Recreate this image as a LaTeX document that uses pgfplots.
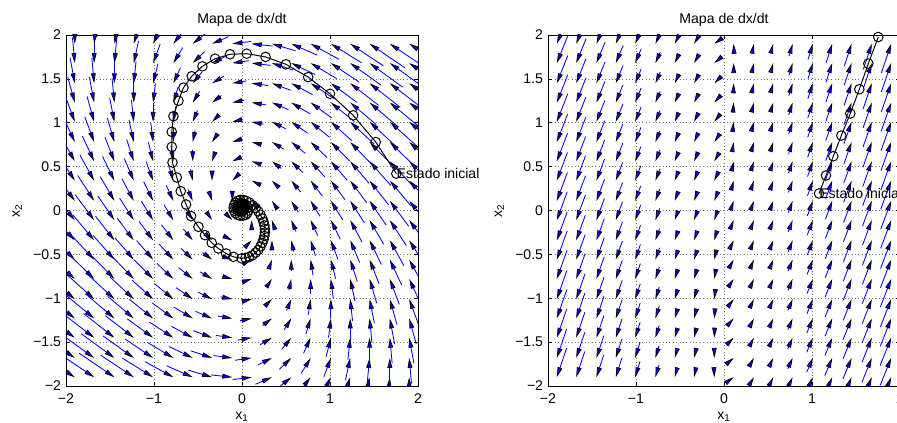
\documentclass[border=0pt]{standalone}
\usepackage{fontspec}
\setmainfont{Liberation Sans}
\usepackage{pgfplots}
\pgfplotsset{compat=1.18}
\usetikzlibrary{arrows.meta}

\pgfplotsset{
  phase/.style={
    scale only axis, width=88mm, height=87.75mm,
    xmin=-2, xmax=2, ymin=-2, ymax=2,
    xtick={-2,-1,0,1,2}, xticklabels={−2,−1,0,1,2},
    ytick={-2,-1.5,-1,-0.5,0,0.5,1,1.5,2},
    yticklabels={−2,−1.5,−1,−0.5,0,0.5,1,1.5,2},
    grid=major, grid style={dotted, line width=0.5pt, black!55},
    axis line style={line width=0.7pt},
    tick style={black, line width=0.5pt}, major tick length=1.1mm,
    tick label style={font=\fontsize{10}{12}\selectfont},
    every x tick label/.append style={yshift=-0.6mm},
    title={Mapa de dx/dt},
    every axis title shift=0pt,
    title style={at={([yshift=2.9mm]axis description cs:0.5,1)}, anchor=base, inner sep=0pt,
      font=\fontsize{10}{12}\selectfont},
    xlabel={x\textsubscript{1}}, ylabel={x\textsubscript{2}},
    label style={font=\fontsize{10}{12}\selectfont},
    xlabel style={at={([yshift=-8.4mm]axis description cs:0.5,0)}, anchor=base, inner sep=0pt},
    ylabel style={at={([xshift=-11.5mm]axis description cs:0,0.5)}, anchor=base, inner sep=0pt},
    clip mode=individual,
  },
  field/.style={blue, line width=0.6pt,
    {Triangle[length=2.5mm, width=1.2mm, fill=blue, color=black, line width=0.55pt]}-},
  traj/.style={black, line width=0.7pt, mark=o, mark size=1.2mm, mark options={line width=0.7pt}},
}

\begin{document}
\begin{tikzpicture}
\useasboundingbox (0,0) rectangle (224.25mm,105.75mm);
\clip (0,0) rectangle (224.25mm,105.75mm);

% ---- left: stable focus ----
\begin{axis}[phase, at={(16.5mm,9.25mm)}, anchor=south west]
\addplot[field, quiver={u=\thisrow{u}, v=\thisrow{v}, scale arrows=-0.12}]
  table[row sep=\\] {
x y u v\\
-1.9 -1.9 3.80 -2.43\\ -1.9 -1.68 3.58 -2.43\\ -1.9 -1.45 3.35 -2.43\\ -1.9 -1.23 3.13 -2.43\\ -1.9 -1.01 2.91 -2.43\\ -1.9 -0.78 2.68 -2.43\\ -1.9 -0.56 2.46 -2.43\\ -1.9 -0.34 2.24 -2.43\\ -1.9 -0.11 2.01 -2.43\\ -1.9 0.11 1.79 -2.43\\ -1.9 0.34 1.56 -2.43\\ -1.9 0.56 1.34 -2.43\\ -1.9 0.78 1.12 -2.43\\ -1.9 1.01 0.89 -2.43\\ -1.9 1.23 0.67 -2.43\\ -1.9 1.45 0.45 -2.43\\ -1.9 1.68 0.22 -2.43\\ -1.9 1.9 0.00 -2.43\\
-1.68 -1.9 3.58 -2.41\\ -1.68 -1.68 3.35 -2.41\\ -1.68 -1.45 3.13 -2.41\\ -1.68 -1.23 2.91 -2.41\\ -1.68 -1.01 2.68 -2.41\\ -1.68 -0.78 2.46 -2.41\\ -1.68 -0.56 2.24 -2.41\\ -1.68 -0.34 2.01 -2.41\\ -1.68 -0.11 1.79 -2.41\\ -1.68 0.11 1.56 -2.41\\ -1.68 0.34 1.34 -2.41\\ -1.68 0.56 1.12 -2.41\\ -1.68 0.78 0.89 -2.41\\ -1.68 1.01 0.67 -2.41\\ -1.68 1.23 0.45 -2.41\\ -1.68 1.45 0.22 -2.41\\ -1.68 1.68 0.00 -2.41\\ -1.68 1.9 -0.22 -2.41\\
-1.45 -1.9 3.35 -2.29\\ -1.45 -1.68 3.13 -2.29\\ -1.45 -1.45 2.91 -2.29\\ -1.45 -1.23 2.68 -2.29\\ -1.45 -1.01 2.46 -2.29\\ -1.45 -0.78 2.24 -2.29\\ -1.45 -0.56 2.01 -2.29\\ -1.45 -0.34 1.79 -2.29\\ -1.45 -0.11 1.56 -2.29\\ -1.45 0.11 1.34 -2.29\\ -1.45 0.34 1.12 -2.29\\ -1.45 0.56 0.89 -2.29\\ -1.45 0.78 0.67 -2.29\\ -1.45 1.01 0.45 -2.29\\ -1.45 1.23 0.22 -2.29\\ -1.45 1.45 0.00 -2.29\\ -1.45 1.68 -0.22 -2.29\\ -1.45 1.9 -0.45 -2.29\\
-1.23 -1.9 3.13 -2.09\\ -1.23 -1.68 2.91 -2.09\\ -1.23 -1.45 2.68 -2.09\\ -1.23 -1.23 2.46 -2.09\\ -1.23 -1.01 2.24 -2.09\\ -1.23 -0.78 2.01 -2.09\\ -1.23 -0.56 1.79 -2.09\\ -1.23 -0.34 1.56 -2.09\\ -1.23 -0.11 1.34 -2.09\\ -1.23 0.11 1.12 -2.09\\ -1.23 0.34 0.89 -2.09\\ -1.23 0.56 0.67 -2.09\\ -1.23 0.78 0.45 -2.09\\ -1.23 1.01 0.22 -2.09\\ -1.23 1.23 0.00 -2.09\\ -1.23 1.45 -0.22 -2.09\\ -1.23 1.68 -0.45 -2.09\\ -1.23 1.9 -0.67 -2.09\\
-1.01 -1.9 2.91 -1.81\\ -1.01 -1.68 2.68 -1.81\\ -1.01 -1.45 2.46 -1.81\\ -1.01 -1.23 2.24 -1.81\\ -1.01 -1.01 2.01 -1.81\\ -1.01 -0.78 1.79 -1.81\\ -1.01 -0.56 1.56 -1.81\\ -1.01 -0.34 1.34 -1.81\\ -1.01 -0.11 1.12 -1.81\\ -1.01 0.11 0.89 -1.81\\ -1.01 0.34 0.67 -1.81\\ -1.01 0.56 0.45 -1.81\\ -1.01 0.78 0.22 -1.81\\ -1.01 1.01 0.00 -1.81\\ -1.01 1.23 -0.22 -1.81\\ -1.01 1.45 -0.45 -1.81\\ -1.01 1.68 -0.67 -1.81\\ -1.01 1.9 -0.89 -1.81\\
-0.78 -1.9 2.68 -1.47\\ -0.78 -1.68 2.46 -1.47\\ -0.78 -1.45 2.24 -1.47\\ -0.78 -1.23 2.01 -1.47\\ -0.78 -1.01 1.79 -1.47\\ -0.78 -0.78 1.56 -1.47\\ -0.78 -0.56 1.34 -1.47\\ -0.78 -0.34 1.12 -1.47\\ -0.78 -0.11 0.89 -1.47\\ -0.78 0.11 0.67 -1.47\\ -0.78 0.34 0.45 -1.47\\ -0.78 0.56 0.22 -1.47\\ -0.78 0.78 0.00 -1.47\\ -0.78 1.01 -0.22 -1.47\\ -0.78 1.23 -0.45 -1.47\\ -0.78 1.45 -0.67 -1.47\\ -0.78 1.68 -0.89 -1.47\\ -0.78 1.9 -1.12 -1.47\\
-0.56 -1.9 2.46 -1.08\\ -0.56 -1.68 2.24 -1.08\\ -0.56 -1.45 2.01 -1.08\\ -0.56 -1.23 1.79 -1.08\\ -0.56 -1.01 1.56 -1.08\\ -0.56 -0.78 1.34 -1.08\\ -0.56 -0.56 1.12 -1.08\\ -0.56 -0.34 0.89 -1.08\\ -0.56 -0.11 0.67 -1.08\\ -0.56 0.11 0.45 -1.08\\ -0.56 0.34 0.22 -1.08\\ -0.56 0.56 0.00 -1.08\\ -0.56 0.78 -0.22 -1.08\\ -0.56 1.01 -0.45 -1.08\\ -0.56 1.23 -0.67 -1.08\\ -0.56 1.45 -0.89 -1.08\\ -0.56 1.68 -1.12 -1.08\\ -0.56 1.9 -1.34 -1.08\\
-0.34 -1.9 2.24 -0.67\\ -0.34 -1.68 2.01 -0.67\\ -0.34 -1.45 1.79 -0.67\\ -0.34 -1.23 1.56 -0.67\\ -0.34 -1.01 1.34 -0.67\\ -0.34 -0.78 1.12 -0.67\\ -0.34 -0.56 0.89 -0.67\\ -0.34 -0.34 0.67 -0.67\\ -0.34 -0.11 0.45 -0.67\\ -0.34 0.11 0.22 -0.67\\ -0.34 0.34 0.00 -0.67\\ -0.34 0.56 -0.22 -0.67\\ -0.34 0.78 -0.45 -0.67\\ -0.34 1.01 -0.67 -0.67\\ -0.34 1.23 -0.89 -0.67\\ -0.34 1.45 -1.12 -0.67\\ -0.34 1.68 -1.34 -0.67\\ -0.34 1.9 -1.56 -0.67\\
-0.11 -1.9 2.01 -0.22\\ -0.11 -1.68 1.79 -0.22\\ -0.11 -1.45 1.56 -0.22\\ -0.11 -1.23 1.34 -0.22\\ -0.11 -1.01 1.12 -0.22\\ -0.11 -0.78 0.89 -0.22\\ -0.11 -0.56 0.67 -0.22\\ -0.11 -0.34 0.45 -0.22\\ -0.11 -0.11 0.22 -0.22\\ -0.11 0.11 0.00 -0.22\\ -0.11 0.34 -0.22 -0.22\\ -0.11 0.56 -0.45 -0.22\\ -0.11 0.78 -0.67 -0.22\\ -0.11 1.01 -0.89 -0.22\\ -0.11 1.23 -1.12 -0.22\\ -0.11 1.45 -1.34 -0.22\\ -0.11 1.68 -1.56 -0.22\\ -0.11 1.9 -1.79 -0.22\\
0.11 -1.9 1.79 0.22\\ 0.11 -1.68 1.56 0.22\\ 0.11 -1.45 1.34 0.22\\ 0.11 -1.23 1.12 0.22\\ 0.11 -1.01 0.89 0.22\\ 0.11 -0.78 0.67 0.22\\ 0.11 -0.56 0.45 0.22\\ 0.11 -0.34 0.22 0.22\\ 0.11 -0.11 0.00 0.22\\ 0.11 0.11 -0.22 0.22\\ 0.11 0.34 -0.45 0.22\\ 0.11 0.56 -0.67 0.22\\ 0.11 0.78 -0.89 0.22\\ 0.11 1.01 -1.12 0.22\\ 0.11 1.23 -1.34 0.22\\ 0.11 1.45 -1.56 0.22\\ 0.11 1.68 -1.79 0.22\\ 0.11 1.9 -2.01 0.22\\
0.34 -1.9 1.56 0.67\\ 0.34 -1.68 1.34 0.67\\ 0.34 -1.45 1.12 0.67\\ 0.34 -1.23 0.89 0.67\\ 0.34 -1.01 0.67 0.67\\ 0.34 -0.78 0.45 0.67\\ 0.34 -0.56 0.22 0.67\\ 0.34 -0.34 0.00 0.67\\ 0.34 -0.11 -0.22 0.67\\ 0.34 0.11 -0.45 0.67\\ 0.34 0.34 -0.67 0.67\\ 0.34 0.56 -0.89 0.67\\ 0.34 0.78 -1.12 0.67\\ 0.34 1.01 -1.34 0.67\\ 0.34 1.23 -1.56 0.67\\ 0.34 1.45 -1.79 0.67\\ 0.34 1.68 -2.01 0.67\\ 0.34 1.9 -2.24 0.67\\
0.56 -1.9 1.34 1.08\\ 0.56 -1.68 1.12 1.08\\ 0.56 -1.45 0.89 1.08\\ 0.56 -1.23 0.67 1.08\\ 0.56 -1.01 0.45 1.08\\ 0.56 -0.78 0.22 1.08\\ 0.56 -0.56 0.00 1.08\\ 0.56 -0.34 -0.22 1.08\\ 0.56 -0.11 -0.45 1.08\\ 0.56 0.11 -0.67 1.08\\ 0.56 0.34 -0.89 1.08\\ 0.56 0.56 -1.12 1.08\\ 0.56 0.78 -1.34 1.08\\ 0.56 1.01 -1.56 1.08\\ 0.56 1.23 -1.79 1.08\\ 0.56 1.45 -2.01 1.08\\ 0.56 1.68 -2.24 1.08\\ 0.56 1.9 -2.46 1.08\\
0.78 -1.9 1.12 1.47\\ 0.78 -1.68 0.89 1.47\\ 0.78 -1.45 0.67 1.47\\ 0.78 -1.23 0.45 1.47\\ 0.78 -1.01 0.22 1.47\\ 0.78 -0.78 0.00 1.47\\ 0.78 -0.56 -0.22 1.47\\ 0.78 -0.34 -0.45 1.47\\ 0.78 -0.11 -0.67 1.47\\ 0.78 0.11 -0.89 1.47\\ 0.78 0.34 -1.12 1.47\\ 0.78 0.56 -1.34 1.47\\ 0.78 0.78 -1.56 1.47\\ 0.78 1.01 -1.79 1.47\\ 0.78 1.23 -2.01 1.47\\ 0.78 1.45 -2.24 1.47\\ 0.78 1.68 -2.46 1.47\\ 0.78 1.9 -2.68 1.47\\
1.01 -1.9 0.89 1.81\\ 1.01 -1.68 0.67 1.81\\ 1.01 -1.45 0.45 1.81\\ 1.01 -1.23 0.22 1.81\\ 1.01 -1.01 0.00 1.81\\ 1.01 -0.78 -0.22 1.81\\ 1.01 -0.56 -0.45 1.81\\ 1.01 -0.34 -0.67 1.81\\ 1.01 -0.11 -0.89 1.81\\ 1.01 0.11 -1.12 1.81\\ 1.01 0.34 -1.34 1.81\\ 1.01 0.56 -1.56 1.81\\ 1.01 0.78 -1.79 1.81\\ 1.01 1.01 -2.01 1.81\\ 1.01 1.23 -2.24 1.81\\ 1.01 1.45 -2.46 1.81\\ 1.01 1.68 -2.68 1.81\\ 1.01 1.9 -2.91 1.81\\
1.23 -1.9 0.67 2.09\\ 1.23 -1.68 0.45 2.09\\ 1.23 -1.45 0.22 2.09\\ 1.23 -1.23 0.00 2.09\\ 1.23 -1.01 -0.22 2.09\\ 1.23 -0.78 -0.45 2.09\\ 1.23 -0.56 -0.67 2.09\\ 1.23 -0.34 -0.89 2.09\\ 1.23 -0.11 -1.12 2.09\\ 1.23 0.11 -1.34 2.09\\ 1.23 0.34 -1.56 2.09\\ 1.23 0.56 -1.79 2.09\\ 1.23 0.78 -2.01 2.09\\ 1.23 1.01 -2.24 2.09\\ 1.23 1.23 -2.46 2.09\\ 1.23 1.45 -2.68 2.09\\ 1.23 1.68 -2.91 2.09\\ 1.23 1.9 -3.13 2.09\\
1.45 -1.9 0.45 2.29\\ 1.45 -1.68 0.22 2.29\\ 1.45 -1.45 0.00 2.29\\ 1.45 -1.23 -0.22 2.29\\ 1.45 -1.01 -0.45 2.29\\ 1.45 -0.78 -0.67 2.29\\ 1.45 -0.56 -0.89 2.29\\ 1.45 -0.34 -1.12 2.29\\ 1.45 -0.11 -1.34 2.29\\ 1.45 0.11 -1.56 2.29\\ 1.45 0.34 -1.79 2.29\\ 1.45 0.56 -2.01 2.29\\ 1.45 0.78 -2.24 2.29\\ 1.45 1.01 -2.46 2.29\\ 1.45 1.23 -2.68 2.29\\ 1.45 1.45 -2.91 2.29\\ 1.45 1.68 -3.13 2.29\\ 1.45 1.9 -3.35 2.29\\
1.68 -1.9 0.22 2.41\\ 1.68 -1.68 0.00 2.41\\ 1.68 -1.45 -0.22 2.41\\ 1.68 -1.23 -0.45 2.41\\ 1.68 -1.01 -0.67 2.41\\ 1.68 -0.78 -0.89 2.41\\ 1.68 -0.56 -1.12 2.41\\ 1.68 -0.34 -1.34 2.41\\ 1.68 -0.11 -1.56 2.41\\ 1.68 0.11 -1.79 2.41\\ 1.68 0.34 -2.01 2.41\\ 1.68 0.56 -2.24 2.41\\ 1.68 0.78 -2.46 2.41\\ 1.68 1.01 -2.68 2.41\\ 1.68 1.23 -2.91 2.41\\ 1.68 1.45 -3.13 2.41\\ 1.68 1.68 -3.35 2.41\\ 1.68 1.9 -3.58 2.41\\
1.9 -1.9 0.00 2.43\\ 1.9 -1.68 -0.22 2.43\\ 1.9 -1.45 -0.45 2.43\\ 1.9 -1.23 -0.67 2.43\\ 1.9 -1.01 -0.89 2.43\\ 1.9 -0.78 -1.12 2.43\\ 1.9 -0.56 -1.34 2.43\\ 1.9 -0.34 -1.56 2.43\\ 1.9 -0.11 -1.79 2.43\\ 1.9 0.11 -2.01 2.43\\ 1.9 0.34 -2.24 2.43\\ 1.9 0.56 -2.46 2.43\\ 1.9 0.78 -2.68 2.43\\ 1.9 1.01 -2.91 2.43\\ 1.9 1.23 -3.13 2.43\\ 1.9 1.45 -3.35 2.43\\ 1.9 1.68 -3.58 2.43\\ 1.9 1.9 -3.80 2.43\\
};
\addplot[traj] coordinates {
(1.754,0.42)(1.52,0.78)(1.263,1.085)(1.0,1.33)(0.752,1.52)(0.499,1.666)(0.268,1.75)
(0.053,1.787)(-0.136,1.78)(-0.306,1.73)(-0.45,1.643)(-0.571,1.53)(-0.665,1.40)
(-0.722,1.25)(-0.779,1.074)(-0.798,0.896)(-0.798,0.725)(-0.79,0.547)(-0.741,0.376)
(-0.696,0.22)(-0.635,0.068)(-0.578,-0.065)(-0.495,-0.186)(-0.42,-0.281)(-0.344,-0.368)
(-0.268,-0.433)(-0.181,-0.49)(-0.098,-0.528)(-0.004,-0.546)
(0.04,-0.54)(0.08,-0.53)(0.12,-0.51)(0.155,-0.48)(0.185,-0.45)(0.21,-0.41)(0.23,-0.37)
(0.245,-0.33)(0.255,-0.29)(0.26,-0.25)(0.26,-0.21)(0.255,-0.17)(0.245,-0.13)(0.23,-0.09)
(0.21,-0.05)(0.185,-0.01)(0.155,0.03)(0.12,0.06)(0.085,0.09)(0.05,0.11)(0.015,0.12)
(-0.02,0.12)(-0.05,0.11)(-0.075,0.09)(-0.09,0.06)(-0.095,0.03)(-0.09,0.0)(-0.075,-0.03)
(-0.05,-0.05)(-0.02,-0.06)(0.01,-0.06)(0.04,-0.05)(0.06,-0.03)(0.07,0.0)(0.065,0.03)
(0.05,0.05)(0.03,0.07)(0.005,0.08)(-0.02,0.08)(-0.04,0.07)(-0.055,0.05)(-0.06,0.03)
(-0.055,0.01)(-0.04,-0.005)(-0.02,-0.01)(0,-0.01)(0.02,0.0)(0.03,0.02)(0.03,0.04)
(0.02,0.055)(0,0.06)(-0.02,0.055)(-0.03,0.04)(-0.03,0.025)(-0.02,0.015)(-0.005,0.01)
(0.01,0.015)(0.015,0.03)(0.01,0.04)(0,0.04)(-0.01,0.035)
};
\node[anchor=west, inner sep=0pt, font=\fontsize{10}{12}\selectfont] at (axis cs:1.754,0.42) {Estado inicial};
\end{axis}

% ---- right: unstable node ----
\begin{axis}[phase, at={(137mm,9.25mm)}, anchor=south west]
\addplot[field, quiver={u=\thisrow{u}, v=\thisrow{v}, scale arrows=-0.17}]
  table[row sep=\\] {
x y u v\\
-1.9 -1.9 -0.655 -1.948\\ -1.9 -1.68 -0.661 -1.942\\ -1.9 -1.45 -0.667 -1.936\\ -1.9 -1.23 -0.672 -1.931\\ -1.9 -1.01 -0.678 -1.925\\ -1.9 -0.78 -0.683 -1.920\\ -1.9 -0.56 -0.689 -1.914\\ -1.9 -0.34 -0.695 -1.908\\ -1.9 -0.11 -0.700 -1.903\\ -1.9 0.11 -0.706 -1.897\\ -1.9 0.34 -0.711 -1.892\\ -1.9 0.56 -0.717 -1.886\\ -1.9 0.78 -0.723 -1.880\\ -1.9 1.01 -0.728 -1.875\\ -1.9 1.23 -0.734 -1.869\\ -1.9 1.45 -0.739 -1.864\\ -1.9 1.68 -0.745 -1.858\\ -1.9 1.9 -0.751 -1.852\\
-1.68 -1.9 -0.572 -1.724\\ -1.68 -1.68 -0.578 -1.718\\ -1.68 -1.45 -0.584 -1.712\\ -1.68 -1.23 -0.589 -1.707\\ -1.68 -1.01 -0.595 -1.701\\ -1.68 -0.78 -0.600 -1.696\\ -1.68 -0.56 -0.606 -1.690\\ -1.68 -0.34 -0.612 -1.684\\ -1.68 -0.11 -0.617 -1.679\\ -1.68 0.11 -0.623 -1.673\\ -1.68 0.34 -0.628 -1.668\\ -1.68 0.56 -0.634 -1.662\\ -1.68 0.78 -0.640 -1.656\\ -1.68 1.01 -0.645 -1.651\\ -1.68 1.23 -0.651 -1.645\\ -1.68 1.45 -0.656 -1.640\\ -1.68 1.68 -0.662 -1.634\\ -1.68 1.9 -0.668 -1.628\\
-1.45 -1.9 -0.490 -1.501\\ -1.45 -1.68 -0.496 -1.495\\ -1.45 -1.45 -0.502 -1.489\\ -1.45 -1.23 -0.507 -1.484\\ -1.45 -1.01 -0.513 -1.478\\ -1.45 -0.78 -0.518 -1.473\\ -1.45 -0.56 -0.524 -1.467\\ -1.45 -0.34 -0.530 -1.461\\ -1.45 -0.11 -0.535 -1.456\\ -1.45 0.11 -0.541 -1.450\\ -1.45 0.34 -0.546 -1.445\\ -1.45 0.56 -0.552 -1.439\\ -1.45 0.78 -0.558 -1.433\\ -1.45 1.01 -0.563 -1.428\\ -1.45 1.23 -0.569 -1.422\\ -1.45 1.45 -0.574 -1.417\\ -1.45 1.68 -0.580 -1.411\\ -1.45 1.9 -0.586 -1.405\\
-1.23 -1.9 -0.407 -1.277\\ -1.23 -1.68 -0.413 -1.271\\ -1.23 -1.45 -0.419 -1.265\\ -1.23 -1.23 -0.424 -1.260\\ -1.23 -1.01 -0.430 -1.254\\ -1.23 -0.78 -0.435 -1.249\\ -1.23 -0.56 -0.441 -1.243\\ -1.23 -0.34 -0.447 -1.237\\ -1.23 -0.11 -0.452 -1.232\\ -1.23 0.11 -0.458 -1.226\\ -1.23 0.34 -0.463 -1.221\\ -1.23 0.56 -0.469 -1.215\\ -1.23 0.78 -0.475 -1.209\\ -1.23 1.01 -0.480 -1.204\\ -1.23 1.23 -0.486 -1.198\\ -1.23 1.45 -0.491 -1.193\\ -1.23 1.68 -0.497 -1.187\\ -1.23 1.9 -0.503 -1.181\\
-1.01 -1.9 -0.324 -1.054\\ -1.01 -1.68 -0.330 -1.048\\ -1.01 -1.45 -0.336 -1.042\\ -1.01 -1.23 -0.341 -1.037\\ -1.01 -1.01 -0.347 -1.031\\ -1.01 -0.78 -0.352 -1.026\\ -1.01 -0.56 -0.358 -1.020\\ -1.01 -0.34 -0.364 -1.014\\ -1.01 -0.11 -0.369 -1.009\\ -1.01 0.11 -0.375 -1.003\\ -1.01 0.34 -0.380 -0.998\\ -1.01 0.56 -0.386 -0.992\\ -1.01 0.78 -0.392 -0.986\\ -1.01 1.01 -0.397 -0.981\\ -1.01 1.23 -0.403 -0.975\\ -1.01 1.45 -0.408 -0.970\\ -1.01 1.68 -0.414 -0.964\\ -1.01 1.9 -0.420 -0.958\\
-0.78 -1.9 -0.241 -0.830\\ -0.78 -1.68 -0.247 -0.824\\ -0.78 -1.45 -0.253 -0.818\\ -0.78 -1.23 -0.258 -0.813\\ -0.78 -1.01 -0.264 -0.807\\ -0.78 -0.78 -0.269 -0.802\\ -0.78 -0.56 -0.275 -0.796\\ -0.78 -0.34 -0.281 -0.790\\ -0.78 -0.11 -0.286 -0.785\\ -0.78 0.11 -0.292 -0.779\\ -0.78 0.34 -0.297 -0.774\\ -0.78 0.56 -0.303 -0.768\\ -0.78 0.78 -0.309 -0.762\\ -0.78 1.01 -0.314 -0.757\\ -0.78 1.23 -0.320 -0.751\\ -0.78 1.45 -0.325 -0.746\\ -0.78 1.68 -0.331 -0.740\\ -0.78 1.9 -0.337 -0.734\\
-0.56 -1.9 -0.159 -0.607\\ -0.56 -1.68 -0.165 -0.601\\ -0.56 -1.45 -0.171 -0.595\\ -0.56 -1.23 -0.176 -0.590\\ -0.56 -1.01 -0.182 -0.584\\ -0.56 -0.78 -0.187 -0.579\\ -0.56 -0.56 -0.193 -0.573\\ -0.56 -0.34 -0.199 -0.567\\ -0.56 -0.11 -0.204 -0.562\\ -0.56 0.11 -0.210 -0.556\\ -0.56 0.34 -0.215 -0.551\\ -0.56 0.56 -0.221 -0.545\\ -0.56 0.78 -0.227 -0.539\\ -0.56 1.01 -0.232 -0.534\\ -0.56 1.23 -0.238 -0.528\\ -0.56 1.45 -0.243 -0.523\\ -0.56 1.68 -0.249 -0.517\\ -0.56 1.9 -0.255 -0.511\\
-0.34 -1.9 -0.076 -0.383\\ -0.34 -1.68 -0.082 -0.377\\ -0.34 -1.45 -0.088 -0.371\\ -0.34 -1.23 -0.093 -0.366\\ -0.34 -1.01 -0.099 -0.360\\ -0.34 -0.78 -0.104 -0.355\\ -0.34 -0.56 -0.110 -0.349\\ -0.34 -0.34 -0.116 -0.343\\ -0.34 -0.11 -0.121 -0.338\\ -0.34 0.11 -0.127 -0.332\\ -0.34 0.34 -0.132 -0.327\\ -0.34 0.56 -0.138 -0.321\\ -0.34 0.78 -0.144 -0.315\\ -0.34 1.01 -0.149 -0.310\\ -0.34 1.23 -0.155 -0.304\\ -0.34 1.45 -0.160 -0.299\\ -0.34 1.68 -0.166 -0.293\\ -0.34 1.9 -0.172 -0.287\\
-0.11 -1.9 0.007 -0.160\\ -0.11 -1.68 0.001 -0.154\\ -0.11 -1.45 -0.005 -0.148\\ -0.11 -1.23 -0.010 -0.143\\ -0.11 -1.01 -0.016 -0.137\\ -0.11 -0.78 -0.021 -0.132\\ -0.11 -0.56 -0.027 -0.126\\ -0.11 -0.34 -0.033 -0.120\\ -0.11 -0.11 -0.038 -0.115\\ -0.11 0.11 -0.044 -0.109\\ -0.11 0.34 -0.049 -0.104\\ -0.11 0.56 -0.055 -0.098\\ -0.11 0.78 -0.061 -0.092\\ -0.11 1.01 -0.066 -0.087\\ -0.11 1.23 -0.072 -0.081\\ -0.11 1.45 -0.077 -0.076\\ -0.11 1.68 -0.083 -0.070\\ -0.11 1.9 -0.089 -0.064\\
0.11 -1.9 0.089 0.064\\ 0.11 -1.68 0.083 0.070\\ 0.11 -1.45 0.077 0.076\\ 0.11 -1.23 0.072 0.081\\ 0.11 -1.01 0.066 0.087\\ 0.11 -0.78 0.061 0.092\\ 0.11 -0.56 0.055 0.098\\ 0.11 -0.34 0.049 0.104\\ 0.11 -0.11 0.044 0.109\\ 0.11 0.11 0.038 0.115\\ 0.11 0.34 0.033 0.120\\ 0.11 0.56 0.027 0.126\\ 0.11 0.78 0.021 0.132\\ 0.11 1.01 0.016 0.137\\ 0.11 1.23 0.010 0.143\\ 0.11 1.45 0.005 0.148\\ 0.11 1.68 -0.001 0.154\\ 0.11 1.9 -0.007 0.160\\
0.34 -1.9 0.172 0.287\\ 0.34 -1.68 0.166 0.293\\ 0.34 -1.45 0.160 0.299\\ 0.34 -1.23 0.155 0.304\\ 0.34 -1.01 0.149 0.310\\ 0.34 -0.78 0.144 0.315\\ 0.34 -0.56 0.138 0.321\\ 0.34 -0.34 0.132 0.327\\ 0.34 -0.11 0.127 0.332\\ 0.34 0.11 0.121 0.338\\ 0.34 0.34 0.116 0.343\\ 0.34 0.56 0.110 0.349\\ 0.34 0.78 0.104 0.355\\ 0.34 1.01 0.099 0.360\\ 0.34 1.23 0.093 0.366\\ 0.34 1.45 0.088 0.371\\ 0.34 1.68 0.082 0.377\\ 0.34 1.9 0.076 0.383\\
0.56 -1.9 0.255 0.511\\ 0.56 -1.68 0.249 0.517\\ 0.56 -1.45 0.243 0.523\\ 0.56 -1.23 0.238 0.528\\ 0.56 -1.01 0.232 0.534\\ 0.56 -0.78 0.227 0.539\\ 0.56 -0.56 0.221 0.545\\ 0.56 -0.34 0.215 0.551\\ 0.56 -0.11 0.210 0.556\\ 0.56 0.11 0.204 0.562\\ 0.56 0.34 0.199 0.567\\ 0.56 0.56 0.193 0.573\\ 0.56 0.78 0.187 0.579\\ 0.56 1.01 0.182 0.584\\ 0.56 1.23 0.176 0.590\\ 0.56 1.45 0.171 0.595\\ 0.56 1.68 0.165 0.601\\ 0.56 1.9 0.159 0.607\\
0.78 -1.9 0.337 0.734\\ 0.78 -1.68 0.331 0.740\\ 0.78 -1.45 0.325 0.746\\ 0.78 -1.23 0.320 0.751\\ 0.78 -1.01 0.314 0.757\\ 0.78 -0.78 0.309 0.762\\ 0.78 -0.56 0.303 0.768\\ 0.78 -0.34 0.297 0.774\\ 0.78 -0.11 0.292 0.779\\ 0.78 0.11 0.286 0.785\\ 0.78 0.34 0.281 0.790\\ 0.78 0.56 0.275 0.796\\ 0.78 0.78 0.269 0.802\\ 0.78 1.01 0.264 0.807\\ 0.78 1.23 0.258 0.813\\ 0.78 1.45 0.253 0.818\\ 0.78 1.68 0.247 0.824\\ 0.78 1.9 0.241 0.830\\
1.01 -1.9 0.420 0.958\\ 1.01 -1.68 0.414 0.964\\ 1.01 -1.45 0.408 0.970\\ 1.01 -1.23 0.403 0.975\\ 1.01 -1.01 0.397 0.981\\ 1.01 -0.78 0.392 0.986\\ 1.01 -0.56 0.386 0.992\\ 1.01 -0.34 0.380 0.998\\ 1.01 -0.11 0.375 1.003\\ 1.01 0.11 0.369 1.009\\ 1.01 0.34 0.364 1.014\\ 1.01 0.56 0.358 1.020\\ 1.01 0.78 0.352 1.026\\ 1.01 1.01 0.347 1.031\\ 1.01 1.23 0.341 1.037\\ 1.01 1.45 0.336 1.042\\ 1.01 1.68 0.330 1.048\\ 1.01 1.9 0.324 1.054\\
1.23 -1.9 0.503 1.181\\ 1.23 -1.68 0.497 1.187\\ 1.23 -1.45 0.491 1.193\\ 1.23 -1.23 0.486 1.198\\ 1.23 -1.01 0.480 1.204\\ 1.23 -0.78 0.475 1.209\\ 1.23 -0.56 0.469 1.215\\ 1.23 -0.34 0.463 1.221\\ 1.23 -0.11 0.458 1.226\\ 1.23 0.11 0.452 1.232\\ 1.23 0.34 0.447 1.237\\ 1.23 0.56 0.441 1.243\\ 1.23 0.78 0.435 1.249\\ 1.23 1.01 0.430 1.254\\ 1.23 1.23 0.424 1.260\\ 1.23 1.45 0.419 1.265\\ 1.23 1.68 0.413 1.271\\ 1.23 1.9 0.407 1.277\\
1.45 -1.9 0.586 1.405\\ 1.45 -1.68 0.580 1.411\\ 1.45 -1.45 0.574 1.417\\ 1.45 -1.23 0.569 1.422\\ 1.45 -1.01 0.563 1.428\\ 1.45 -0.78 0.558 1.433\\ 1.45 -0.56 0.552 1.439\\ 1.45 -0.34 0.546 1.445\\ 1.45 -0.11 0.541 1.450\\ 1.45 0.11 0.535 1.456\\ 1.45 0.34 0.530 1.461\\ 1.45 0.56 0.524 1.467\\ 1.45 0.78 0.518 1.473\\ 1.45 1.01 0.513 1.478\\ 1.45 1.23 0.507 1.484\\ 1.45 1.45 0.502 1.489\\ 1.45 1.68 0.496 1.495\\ 1.45 1.9 0.490 1.501\\
1.68 -1.9 0.668 1.628\\ 1.68 -1.68 0.662 1.634\\ 1.68 -1.45 0.656 1.640\\ 1.68 -1.23 0.651 1.645\\ 1.68 -1.01 0.645 1.651\\ 1.68 -0.78 0.640 1.656\\ 1.68 -0.56 0.634 1.662\\ 1.68 -0.34 0.628 1.668\\ 1.68 -0.11 0.623 1.673\\ 1.68 0.11 0.617 1.679\\ 1.68 0.34 0.612 1.684\\ 1.68 0.56 0.606 1.690\\ 1.68 0.78 0.600 1.696\\ 1.68 1.01 0.595 1.701\\ 1.68 1.23 0.589 1.707\\ 1.68 1.45 0.584 1.712\\ 1.68 1.68 0.578 1.718\\ 1.68 1.9 0.572 1.724\\
1.9 -1.9 0.751 1.852\\ 1.9 -1.68 0.745 1.858\\ 1.9 -1.45 0.739 1.864\\ 1.9 -1.23 0.734 1.869\\ 1.9 -1.01 0.728 1.875\\ 1.9 -0.78 0.723 1.880\\ 1.9 -0.56 0.717 1.886\\ 1.9 -0.34 0.711 1.892\\ 1.9 -0.11 0.706 1.897\\ 1.9 0.11 0.700 1.903\\ 1.9 0.34 0.695 1.908\\ 1.9 0.56 0.689 1.914\\ 1.9 0.78 0.683 1.920\\ 1.9 1.01 0.678 1.925\\ 1.9 1.23 0.672 1.931\\ 1.9 1.45 0.667 1.936\\ 1.9 1.68 0.661 1.942\\ 1.9 1.9 0.655 1.948\\
};
\addplot[traj] coordinates {
(1.08,0.194)(1.159,0.399)(1.242,0.618)(1.333,0.854)(1.435,1.105)(1.538,1.382)(1.64,1.674)(1.753,1.977)
};
\node[anchor=west, inner sep=0pt, font=\fontsize{10}{12}\selectfont] at (axis cs:1.08,0.194) {Estado inicial};
\end{axis}
\end{tikzpicture}
\end{document}
